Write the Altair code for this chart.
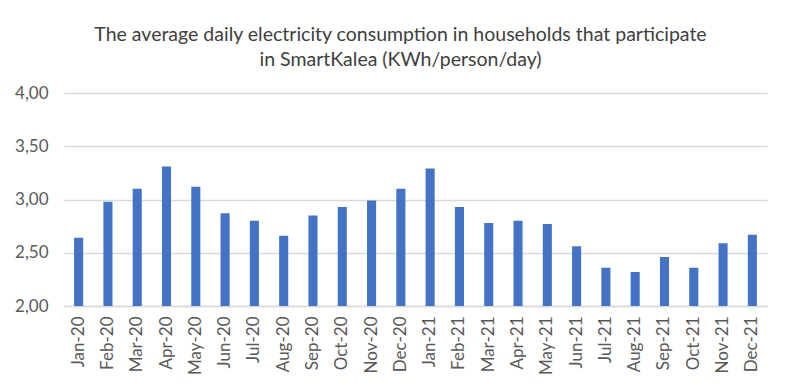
import altair as alt
import pandas as pd

months = ["Jan-20", "Feb-20", "Mar-20", "Apr-20", "May-20", "Jun-20", "Jul-20", "Aug-20",
          "Sep-20", "Oct-20", "Nov-20", "Dec-20", "Jan-21", "Feb-21", "Mar-21", "Apr-21",
          "May-21", "Jun-21", "Jul-21", "Aug-21", "Sep-21", "Oct-21", "Nov-21", "Dec-21"]
values = [2.64, 2.98, 3.10, 3.31, 3.12, 2.87, 2.80, 2.66, 2.85, 2.93, 2.99, 3.10,
          3.29, 2.93, 2.78, 2.80, 2.77, 2.56, 2.36, 2.32, 2.46, 2.36, 2.59, 2.67]
y_ticks = [2.0, 2.5, 3.0, 3.5, 4.0]

df = pd.DataFrame({"month": months, "value": values})

FONT = "Lato"

chart = alt.Chart(df).mark_bar(color="#4472C4", clip=True).encode(
    x=alt.X("month:N", sort=months,
            scale=alt.Scale(paddingInner=0.69, paddingOuter=0.345),
            axis=alt.Axis(title=None, labelAngle=-90, labelAlign="right", labelBaseline="middle",
                          labelPadding=10, ticks=False, domain=True, domainColor="#d9d9d9",
                          domainWidth=1.5, labelFont=FONT, labelFontSize=17,
                          labelColor="#595959")),
    y=alt.Y("value:Q", scale=alt.Scale(domain=[2.0, 4.0], zero=False, nice=False),
            axis=alt.Axis(title=None, values=y_ticks, ticks=False, domain=False,
                          grid=True, gridColor="#d9d9d9", gridWidth=1.5,
                          labelExpr="replace(format(datum.value, '.2f'), '.', ',')",
                          labelPadding=16, labelFont=FONT, labelFontSize=17,
                          labelColor="#595959")),
).properties(
    width=703,
    height=213,
    title=alt.TitleParams(
        text=["The average daily electricity consumption in households that participate",
              "in SmartKalea (KWh/person/day)"],
        font=FONT, fontSize=19.5, fontWeight="normal", color="#404040",
        anchor="middle", dx=-15, offset=14, lineHeight=25),
    autosize=alt.AutoSizeParams(type="none"),
    padding={"left": 56, "top": 85, "right": 15, "bottom": 75},
).configure_view(stroke=None)

chart.save("out.html", embed_options={"renderer": "svg", "actions": False})
